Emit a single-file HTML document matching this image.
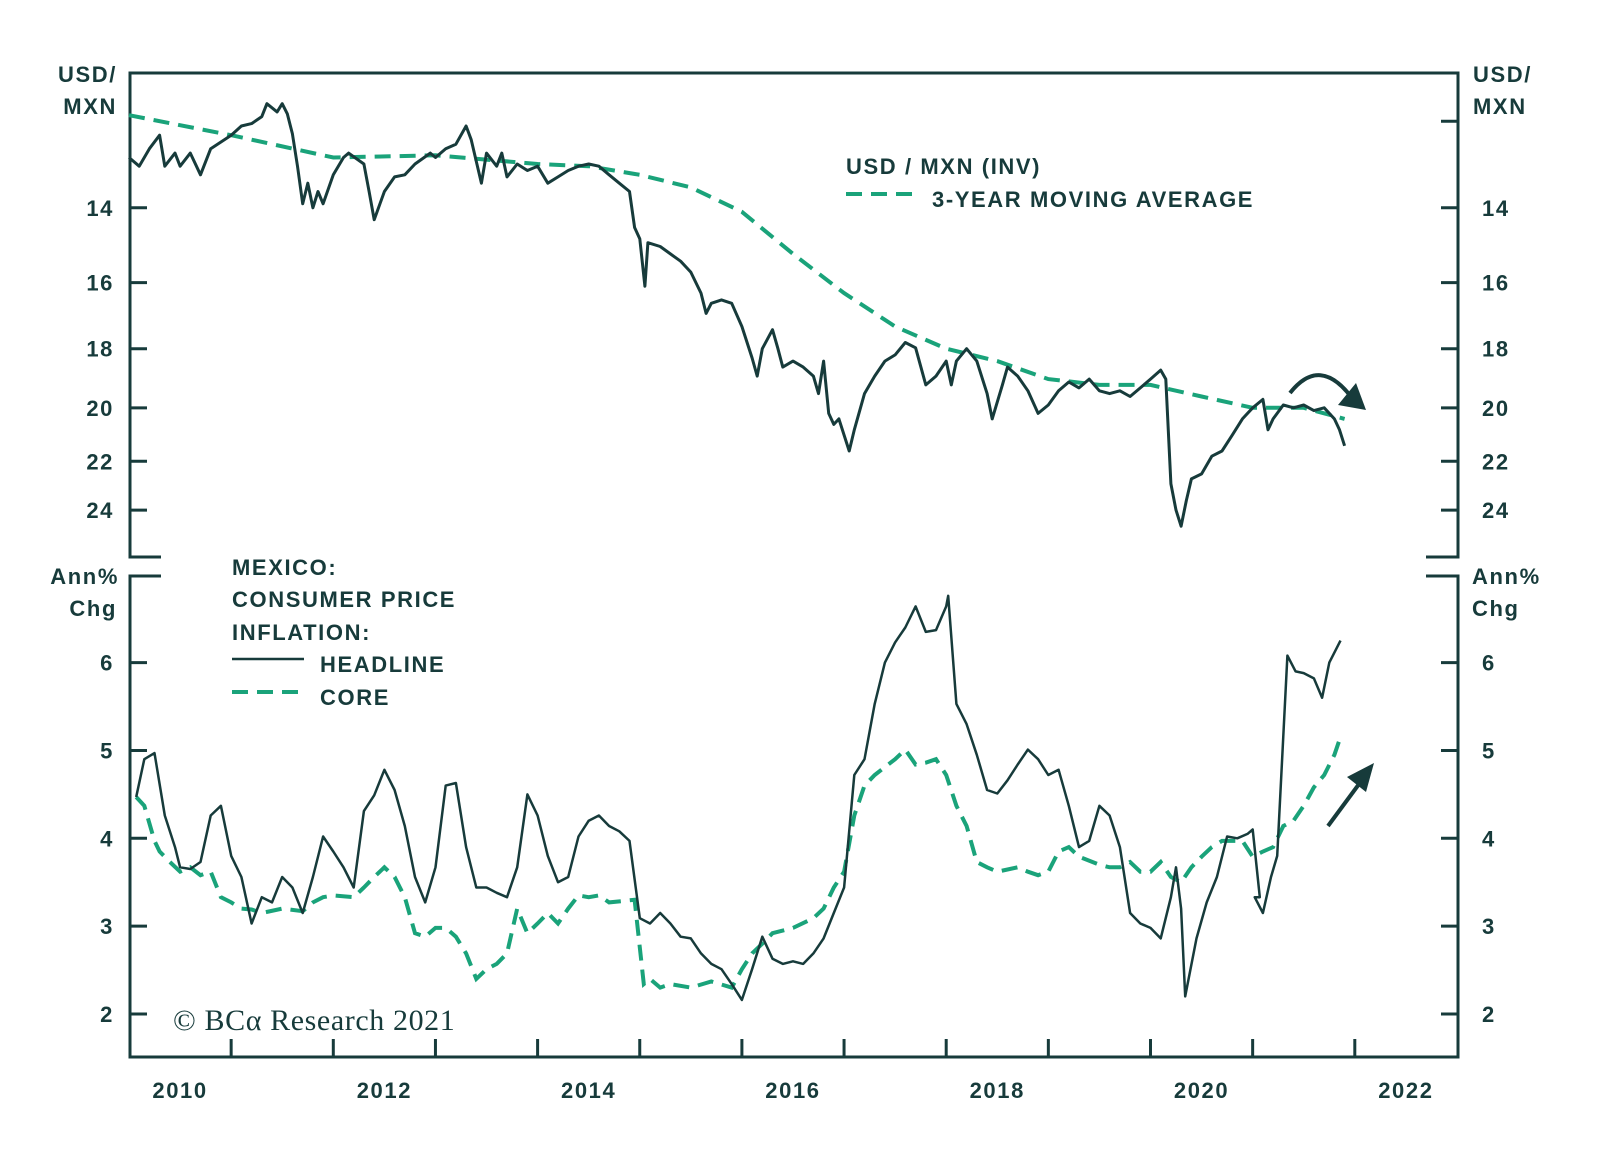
<!DOCTYPE html>
<html><head><meta charset="utf-8">
<style>
html,body{margin:0;padding:0;background:#fff;}
svg{display:block;font-family:"Liberation Sans",Arial,sans-serif;}
.lbl{font-weight:bold;font-size:22px;letter-spacing:1.6px;fill:#173b3b;}
</style></head>
<body>
<svg id="chart" width="1600" height="1160" viewBox="0 0 1600 1160" xmlns="http://www.w3.org/2000/svg">
<g id="frame"></g>
<g id="ticks"></g>
<g id="marks"></g>
<g id="texts">
  <text class="lbl" x="117" y="82" text-anchor="end">USD/</text>
  <text class="lbl" x="117" y="114" text-anchor="end">MXN</text>
  <text class="lbl" x="1473" y="82">USD/</text>
  <text class="lbl" x="1473" y="114">MXN</text>
  <text class="lbl" x="119" y="584" text-anchor="end">Ann%</text>
  <text class="lbl" x="117" y="616" text-anchor="end">Chg</text>
  <text class="lbl" x="1472" y="584">Ann%</text>
  <text class="lbl" x="1472" y="616">Chg</text>
  <text class="lbl" x="846" y="174">USD / MXN (INV)</text>
  <line x1="846" y1="194" x2="921" y2="194" stroke="#1aa37a" stroke-width="4" stroke-dasharray="16,9"/>
  <text class="lbl" x="932" y="207">3-YEAR MOVING AVERAGE</text>
  <text class="lbl" x="232" y="575">MEXICO:</text>
  <text class="lbl" x="232" y="607">CONSUMER PRICE</text>
  <text class="lbl" x="232" y="640">INFLATION:</text>
  <line x1="232" y1="659" x2="304" y2="659" stroke="#173b3b" stroke-width="2.5"/>
  <text class="lbl" x="320" y="672">HEADLINE</text>
  <line x1="232" y1="692" x2="306" y2="692" stroke="#1aa37a" stroke-width="4" stroke-dasharray="16,9"/>
  <text class="lbl" x="320" y="705">CORE</text>
  <text x="173" y="1030" style="font-family:'Liberation Serif',serif;font-size:30px;letter-spacing:0.6px;fill:#173b3b">© BCα Research 2021</text>
  <path d="M1290,393 Q1320,355 1352,398" fill="none" stroke="#173b3b" stroke-width="4"/>
  <polygon points="1366,410 1338,405 1356,383" fill="#173b3b"/>
  <line x1="1328" y1="826" x2="1362" y2="780" stroke="#173b3b" stroke-width="4"/>
  <polygon points="1374,763 1347,777 1366,792" fill="#173b3b"/>
</g>
</svg>
<script>
const fxDates=[2010.0,2010.1,2010.2,2010.3,2010.35,2010.45,2010.5,2010.6,2010.7,2010.8,2011.0,2011.1,2011.2,2011.3,2011.35,2011.45,2011.5,2011.55,2011.6,2011.65,2011.7,2011.75,2011.8,2011.85,2011.9,2012.0,2012.1,2012.15,2012.3,2012.35,2012.4,2012.5,2012.6,2012.7,2012.8,2012.95,2013.0,2013.1,2013.2,2013.3,2013.35,2013.45,2013.5,2013.6,2013.65,2013.7,2013.8,2013.9,2014.0,2014.1,2014.2,2014.3,2014.4,2014.5,2014.6,2014.7,2014.8,2014.9,2014.95,2015.0,2015.05,2015.08,2015.2,2015.3,2015.4,2015.5,2015.6,2015.65,2015.7,2015.8,2015.9,2016.0,2016.1,2016.15,2016.2,2016.3,2016.35,2016.4,2016.5,2016.6,2016.7,2016.75,2016.8,2016.85,2016.9,2016.95,2017.05,2017.1,2017.2,2017.3,2017.4,2017.5,2017.6,2017.7,2017.8,2017.9,2018.0,2018.05,2018.1,2018.2,2018.3,2018.4,2018.45,2018.55,2018.6,2018.7,2018.8,2018.9,2019.0,2019.1,2019.2,2019.3,2019.4,2019.5,2019.6,2019.7,2019.8,2019.9,2020.0,2020.1,2020.15,2020.2,2020.25,2020.3,2020.35,2020.4,2020.5,2020.6,2020.7,2020.8,2020.9,2021.0,2021.1,2021.15,2021.2,2021.3,2021.4,2021.5,2021.6,2021.7,2021.8,2021.85,2021.9];
const fxValues=[12.8,13.0,12.6,12.3,13.0,12.7,13.0,12.7,13.2,12.6,12.3,12.1,12.05,11.9,11.63,11.8,11.63,11.84,12.27,13.0,13.9,13.4,14.0,13.6,13.9,13.2,12.8,12.7,12.95,13.6,14.3,13.6,13.25,13.2,12.95,12.7,12.8,12.6,12.5,12.1,12.4,13.4,12.7,13.0,12.7,13.25,12.95,13.1,13.0,13.4,13.25,13.1,13.0,12.95,13.0,13.2,13.4,13.6,14.5,14.8,16.1,14.9,15.0,15.2,15.4,15.7,16.3,16.9,16.6,16.5,16.6,17.3,18.3,18.9,18.0,17.4,17.97,18.6,18.4,18.6,18.9,19.5,18.4,20.2,20.6,20.4,21.6,20.8,19.5,18.9,18.4,18.2,17.8,17.97,19.2,18.9,18.4,19.2,18.4,18.0,18.4,19.5,20.4,19.2,18.6,18.9,19.4,20.2,19.9,19.4,19.1,19.3,19.0,19.4,19.5,19.4,19.6,19.3,19.0,18.7,19.0,22.9,24.0,24.7,23.6,22.7,22.5,21.8,21.6,21.0,20.4,20.0,19.7,20.8,20.4,19.9,20.0,19.9,20.1,20.0,20.4,20.8,21.4];
const maDates=[2010.0,2011.0,2012.0,2013.0,2014.0,2014.5,2015.0,2015.5,2016.0,2016.5,2017.0,2017.5,2018.0,2018.5,2019.0,2019.5,2020.0,2020.5,2021.0,2021.5,2021.9];
const maValues=[11.87,12.3,12.8,12.75,12.95,13.0,13.2,13.5,14.1,15.2,16.3,17.3,18.0,18.4,19.0,19.2,19.2,19.6,20.0,20.0,20.4];
const headDates=[2010.07,2010.15,2010.25,2010.35,2010.45,2010.5,2010.6,2010.7,2010.8,2010.9,2011.0,2011.1,2011.2,2011.3,2011.4,2011.5,2011.6,2011.7,2011.8,2011.9,2012.0,2012.1,2012.2,2012.3,2012.4,2012.5,2012.6,2012.7,2012.8,2012.9,2013.0,2013.1,2013.2,2013.3,2013.4,2013.5,2013.6,2013.7,2013.8,2013.9,2014.0,2014.1,2014.2,2014.3,2014.4,2014.5,2014.6,2014.7,2014.8,2014.9,2015.0,2015.1,2015.2,2015.3,2015.4,2015.5,2015.6,2015.7,2015.8,2015.9,2016.0,2016.1,2016.2,2016.3,2016.4,2016.5,2016.6,2016.7,2016.8,2016.9,2017.0,2017.1,2017.2,2017.3,2017.4,2017.5,2017.6,2017.7,2017.8,2017.9,2018.0,2018.02,2018.1,2018.2,2018.3,2018.4,2018.5,2018.6,2018.7,2018.8,2018.9,2019.0,2019.1,2019.2,2019.3,2019.4,2019.5,2019.6,2019.7,2019.8,2019.9,2020.0,2020.1,2020.2,2020.25,2020.3,2020.34,2020.45,2020.55,2020.65,2020.75,2020.85,2020.95,2021.0,2021.07,2021.02,2021.1,2021.18,2021.24,2021.34,2021.42,2021.5,2021.6,2021.68,2021.75,2021.86];
const headValues=[4.47,4.9,4.97,4.26,3.9,3.67,3.65,3.73,4.26,4.37,3.8,3.56,3.03,3.33,3.27,3.56,3.44,3.15,3.56,4.02,3.85,3.67,3.44,4.31,4.49,4.78,4.55,4.14,3.56,3.27,3.67,4.6,4.63,3.9,3.44,3.44,3.38,3.33,3.67,4.5,4.26,3.8,3.5,3.56,4.02,4.2,4.26,4.14,4.08,3.97,3.09,3.03,3.15,3.03,2.88,2.86,2.69,2.57,2.51,2.34,2.16,2.51,2.88,2.63,2.57,2.6,2.57,2.69,2.86,3.15,3.44,4.72,4.9,5.53,6.0,6.23,6.4,6.64,6.35,6.37,6.64,6.76,5.53,5.3,4.95,4.55,4.51,4.66,4.84,5.01,4.9,4.72,4.78,4.37,3.9,3.97,4.37,4.26,3.9,3.15,3.03,2.98,2.86,3.33,3.67,3.2,2.2,2.86,3.27,3.56,4.02,4.0,4.05,4.1,3.33,3.33,3.15,3.56,3.8,6.08,5.9,5.88,5.82,5.6,6.0,6.25];
const coreDates=[2010.07,2010.15,2010.25,2010.3,2010.4,2010.5,2010.6,2010.7,2010.8,2010.9,2011.0,2011.1,2011.2,2011.3,2011.5,2011.7,2011.8,2011.9,2012.0,2012.2,2012.3,2012.4,2012.5,2012.6,2012.7,2012.8,2012.9,2013.0,2013.1,2013.2,2013.3,2013.4,2013.5,2013.6,2013.7,2013.8,2013.9,2014.0,2014.1,2014.2,2014.3,2014.4,2014.5,2014.6,2014.7,2014.95,2015.04,2015.1,2015.2,2015.3,2015.5,2015.7,2015.9,2016.0,2016.1,2016.2,2016.3,2016.5,2016.7,2016.8,2016.9,2017.0,2017.1,2017.2,2017.3,2017.5,2017.6,2017.7,2017.8,2017.9,2018.0,2018.1,2018.2,2018.3,2018.4,2018.5,2018.7,2018.8,2018.9,2019.0,2019.1,2019.2,2019.3,2019.5,2019.6,2019.7,2019.8,2019.9,2020.0,2020.1,2020.2,2020.3,2020.4,2020.5,2020.6,2020.7,2020.8,2020.9,2021.0,2021.1,2021.2,2021.3,2021.4,2021.5,2021.6,2021.7,2021.8,2021.85];
const coreValues=[4.47,4.37,3.97,3.85,3.73,3.62,3.67,3.58,3.62,3.33,3.27,3.2,3.19,3.15,3.2,3.17,3.27,3.33,3.35,3.33,3.44,3.56,3.67,3.56,3.33,2.92,2.88,2.98,2.98,2.88,2.69,2.4,2.51,2.57,2.69,3.2,2.92,3.03,3.15,3.03,3.2,3.35,3.33,3.35,3.27,3.3,2.34,2.4,2.3,2.34,2.3,2.37,2.3,2.51,2.69,2.8,2.92,2.98,3.09,3.2,3.44,3.62,4.26,4.6,4.72,4.9,5.01,4.84,4.86,4.9,4.72,4.37,4.14,3.73,3.67,3.62,3.67,3.62,3.58,3.62,3.85,3.9,3.79,3.7,3.67,3.67,3.73,3.62,3.62,3.73,3.56,3.5,3.67,3.79,3.9,3.97,3.97,3.97,3.79,3.85,3.9,4.14,4.2,4.37,4.58,4.72,4.95,5.12];
const topTicks=[14,16,18,20,22,24];
const botTicks=[2,3,4,5,6];
const yearTicks=[2011,2012,2013,2014,2015,2016,2017,2018,2019,2020,2021,2022];
const yearLabels=[2010,2012,2014,2016,2018,2020,2022];

const NS='http://www.w3.org/2000/svg';
const XL=130,XR=1458,TT=73,TB=557,BT=576,BB=1057;
const C='#173b3b',G='#1aa37a';
function x(t){return 129+(t-2010)*102.15;}
function yTop(v){return 72.5+(Math.log(v)-Math.log(11))/(Math.log(26)-Math.log(11))*482.5;}
function yBot(v){return 1014-(v-2)*87.85;}
function mk(parent,tag,attrs){const e=document.createElementNS(NS,tag);for(const k in attrs)e.setAttribute(k,attrs[k]);document.getElementById(parent).appendChild(e);return e;}

let f=mk('frame','path',{d:`M${XL+31},${TB} H${XL} V${TT} H${XR} V${TB} H${XR-32} M${XL+31},${BT} H${XL} V${BB} H${XR} V${BT} H${XR-32}`,fill:'none',stroke:C,'stroke-width':3});



topTicks.forEach(v=>{
  const y=yTop(v);
  let l=mk('ticks','path',{d:`M${XL},${y} h17 M${XR},${y} h-17`,stroke:C,'stroke-width':3});
  
  
  let a=mk('ticks','text',{x:114,y:y+8,'text-anchor':'end',class:'lbl'});a.textContent=v;
  
  
  let b=mk('ticks','text',{x:1482,y:y+8,class:'lbl'});b.textContent=v;
  
  
});
let t12=mk('ticks','path',{d:`M${XR},${yTop(12)} h-17`,stroke:C,'stroke-width':3});


botTicks.forEach(v=>{
  const y=yBot(v);
  let l=mk('ticks','path',{d:`M${XL},${y} h17 M${XR},${y} h-17`,stroke:C,'stroke-width':3});
  
  
  let a=mk('ticks','text',{x:114,y:y+8,'text-anchor':'end',class:'lbl'});a.textContent=v;
  
  
  let b=mk('ticks','text',{x:1482,y:y+8,class:'lbl'});b.textContent=v;
  
  
});
yearTicks.forEach(yr=>{
  let l=mk('ticks','line',{x1:x(yr),x2:x(yr),y1:BB,y2:BB-18,stroke:C,'stroke-width':3});
  
  
});
yearLabels.forEach(yr=>{
  let a=mk('ticks','text',{x:x(yr+0.5),y:1098,'text-anchor':'middle',class:'lbl'});a.textContent=yr;
  
  
});

function pts(ds,vs,fy){return ds.map((d,i)=>x(d).toFixed(1)+','+fy(vs[i]).toFixed(1)).join(' ');}
let ma=mk('marks','polyline',{points:pts(maDates,maValues,yTop),fill:'none',stroke:G,'stroke-width':4,'stroke-dasharray':'16,9'});


let fx=mk('marks','polyline',{points:pts(fxDates,fxValues,yTop),fill:'none',stroke:C,'stroke-width':3,'stroke-linejoin':'round'});


let co=mk('marks','polyline',{points:pts(coreDates,coreValues,yBot),fill:'none',stroke:G,'stroke-width':4,'stroke-dasharray':'16,9'});


let hd=mk('marks','polyline',{points:pts(headDates,headValues,yBot),fill:'none',stroke:C,'stroke-width':2.5,'stroke-linejoin':'round'});


</script>
</body></html>
